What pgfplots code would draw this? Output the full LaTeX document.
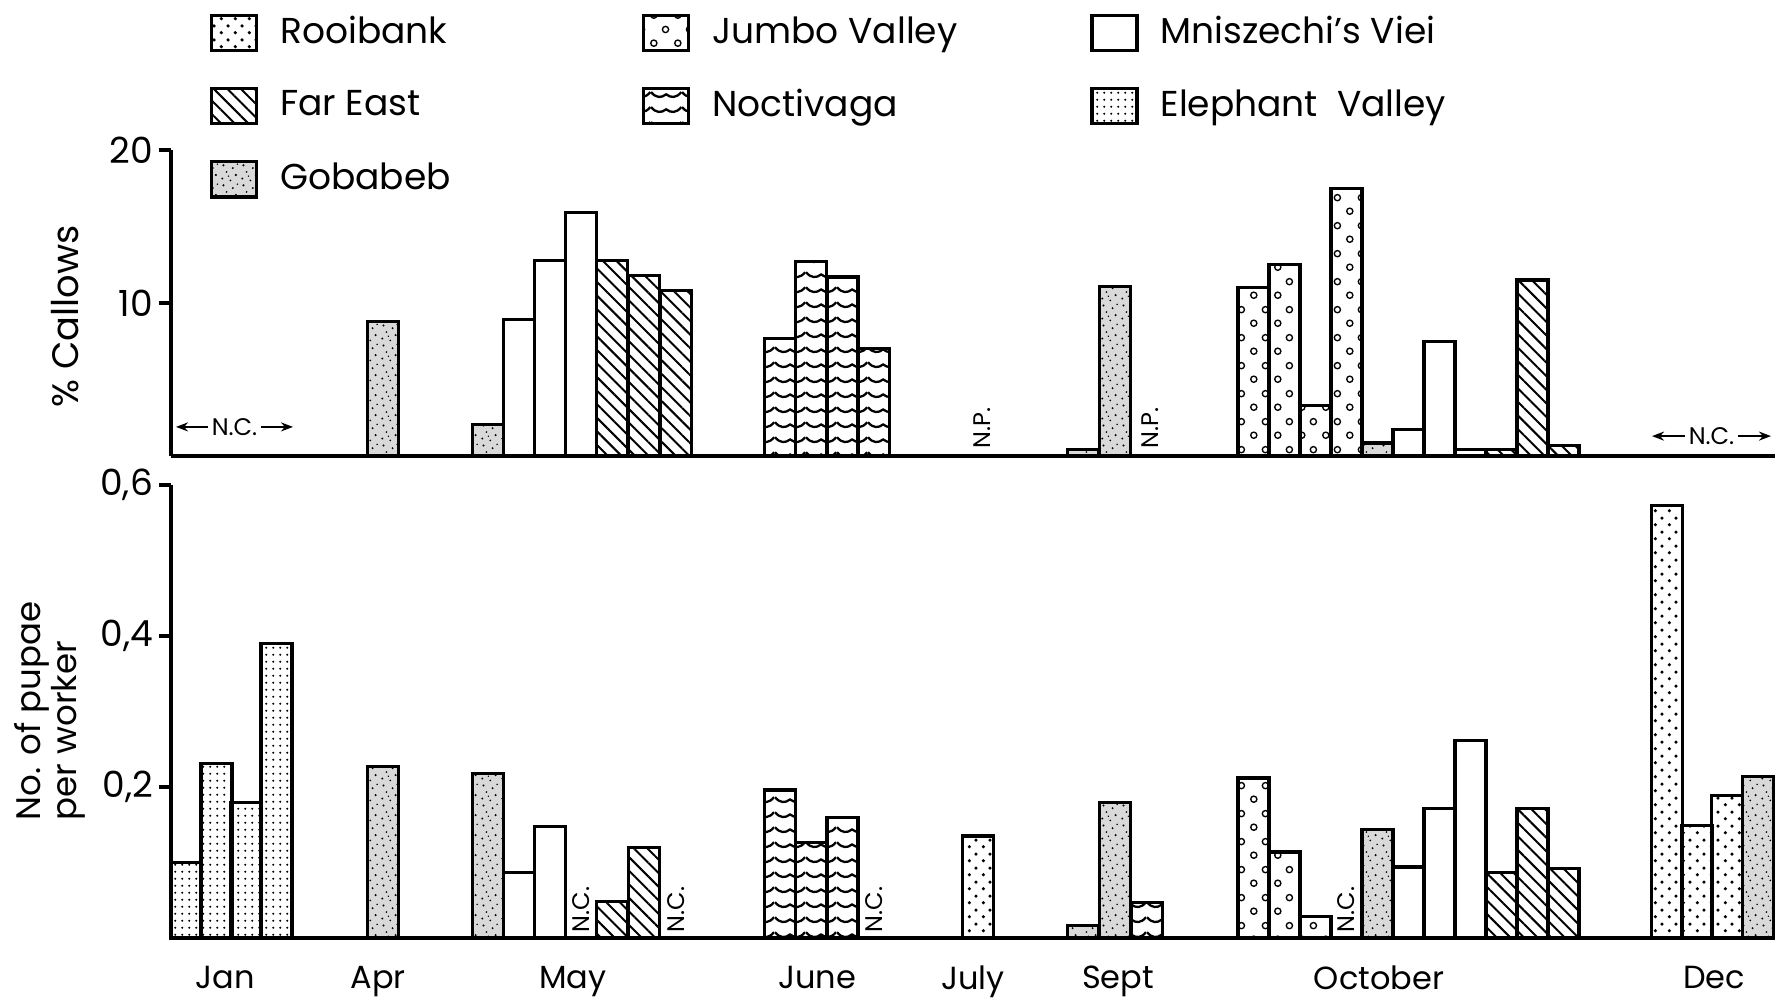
\documentclass[border=0pt]{standalone}
\usepackage{pgfplots}
\pgfplotsset{compat=1.18}
\usepackage{fontspec}
\setmainfont{Poppins}
\usetikzlibrary{patterns,patterns.meta,arrows.meta}

\pgfdeclarepatternformonly{rooidots}{\pgfqpoint{0pt}{0pt}}{\pgfqpoint{3.4pt}{3.4pt}}{\pgfqpoint{3.4pt}{3.4pt}}{%
 \pgfpathcircle{\pgfqpoint{0.85pt}{0.85pt}}{0.45pt}%
 \pgfpathcircle{\pgfqpoint{2.55pt}{2.55pt}}{0.45pt}%
 \pgfusepath{fill}}
\pgfdeclarepatternformonly{jumbocircles}{\pgfqpoint{0pt}{0pt}}{\pgfqpoint{6pt}{7pt}}{\pgfqpoint{6pt}{7pt}}{%
 \pgfsetlinewidth{0.35pt}%
 \pgfpathcircle{\pgfqpoint{1.5pt}{1.75pt}}{0.8pt}%
 \pgfpathcircle{\pgfqpoint{4.5pt}{5.25pt}}{0.8pt}%
 \pgfusepath{stroke}}
\pgfdeclarepatternformonly{elephdots}{\pgfqpoint{0pt}{0pt}}{\pgfqpoint{1.8pt}{1.8pt}}{\pgfqpoint{1.8pt}{1.8pt}}{%
 \pgfpathcircle{\pgfqpoint{0.9pt}{0.9pt}}{0.3pt}\pgfusepath{fill}}
\pgfdeclarepatternformonly{noctwaves}{\pgfqpoint{0pt}{0pt}}{\pgfqpoint{7.75pt}{3.75pt}}{\pgfqpoint{7.75pt}{3.75pt}}{%
 \pgfsetlinewidth{0.6pt}%
 \pgfpathmoveto{\pgfqpoint{0pt}{2.6pt}}%
 \pgfpathcurveto{\pgfqpoint{1.3pt}{1.0pt}}{\pgfqpoint{2.6pt}{1.0pt}}{\pgfqpoint{3.875pt}{2.0pt}}%
 \pgfpathcurveto{\pgfqpoint{5.15pt}{1.0pt}}{\pgfqpoint{6.45pt}{1.0pt}}{\pgfqpoint{7.75pt}{2.6pt}}%
 \pgfusepath{stroke}}
\pgfdeclarepatternformonly{gobstip}{\pgfqpoint{0pt}{0pt}}{\pgfqpoint{5pt}{5pt}}{\pgfqpoint{5pt}{5pt}}{%
 \pgfpathcircle{\pgfqpoint{0.6pt}{0.9pt}}{0.28pt}%
 \pgfpathcircle{\pgfqpoint{2.7pt}{0.4pt}}{0.25pt}%
 \pgfpathcircle{\pgfqpoint{4.1pt}{1.8pt}}{0.3pt}%
 \pgfpathcircle{\pgfqpoint{1.7pt}{2.6pt}}{0.25pt}%
 \pgfpathcircle{\pgfqpoint{3.3pt}{3.6pt}}{0.28pt}%
 \pgfpathcircle{\pgfqpoint{0.9pt}{4.3pt}}{0.3pt}%
 \pgfpathcircle{\pgfqpoint{4.5pt}{4.6pt}}{0.22pt}%
 \pgfpathcircle{\pgfqpoint{2.2pt}{1.5pt}}{0.2pt}%
 \pgfusepath{fill}}

\pgfplotsset{
 barbase/.style={ybar, bar width=31, bar shift=0pt, draw=black, line width=0.8pt,
   legend image code/.code={\draw[##1,line width=0.8pt] (0pt,-4.4pt) rectangle (11.25pt,4.4pt);}},
 rooi/.style={barbase, pattern=rooidots},
 jumbo/.style={barbase, pattern=jumbocircles},
 mnisz/.style={barbase, fill=white},
 fareast/.style={barbase, pattern={Lines[angle=-45,distance=2.4pt,line width=0.5pt]}},
 noct/.style={barbase, pattern=noctwaves},
 eleph/.style={barbase, pattern=elephdots},
 gob/.style={barbase, fill=black!15, postaction={pattern=gobstip}},
 panel/.style={scale only axis, width=401pt, anchor=south west,
   xmin=171, xmax=1775, enlargelimits=false, clip=false,
   axis x line*=bottom, axis y line*=left, axis line style={line width=1pt},
   tick align=outside, major tick length=3pt,
   ytick style={line width=0.9pt, black},
   yticklabel style={font=\fontsize{9}{9}\selectfont, xshift=2pt}},
}
\newcommand{\smalltxt}{\fontsize{6}{6}\selectfont}

\begin{document}
\begin{tikzpicture}
\path[use as bounding box] (0,0) rectangle (445pt,-250.5pt);

% ---------------- top panel: % callows
\begin{axis}[panel, at={(42.75pt,-114pt)}, height=76.5pt,
 ymin=0, ymax=20, xtick=\empty, ytick={10,20}, yticklabels={10,20},
 ylabel={\% Callows},
 ylabel style={at={(rel axis cs:-0.066,0.457)}, anchor=center, font=\fontsize{9.2}{11}\selectfont},
 legend columns=3,
 legend cell align=left,
 legend style={at={(0.0243,1.445)}, anchor=north west, draw=none, fill=none,
   inner sep=0pt, outer sep=0pt, row sep=8.7pt,
   font=\fontsize{9}{11}\selectfont, nodes={inner sep=0pt},
   /tikz/every odd column/.style={column sep=5.5pt}},
]
\addlegendimage{rooi}
\addlegendentry{\makebox[90.5pt][l]{Rooibank}}
\addlegendimage{jumbo}
\addlegendentry{\makebox[94.5pt][l]{Jumbo Valley}}
\addplot[mnisz] coordinates {(519,8.9) (550,12.8) (581,15.9) (1408.5,1.75) (1439.5,7.5) (1470.5,0.42)};
\addlegendentry{Mniszechi’s Viei}
\addplot[fareast] coordinates {(612,12.8) (644,11.8) (676,10.8) (1501.5,0.42) (1532.5,11.5) (1563.5,0.66)};
\addlegendentry{Far East}
\addplot[noct] coordinates {(780,7.7) (811,12.7) (842.5,11.7) (874,7.0)};
\addlegendentry{Noctivaga}
\addlegendimage{eleph}
\addlegendentry{Elephant\ \ Valley}
\addplot[gob] coordinates {(383,8.8) (488,2.05) (1083,0.45) (1115,11.1) (1377.5,0.85)};
\addlegendentry{Gobabeb}
\addplot[jumbo, forget plot] coordinates {(1253.5,11.0) (1284.5,12.5) (1315.5,3.3) (1346.5,17.5)};

\draw[{Stealth[length=3pt]}-{Stealth[length=3pt]}, line width=0.5pt] (axis cs:176,1.9) -- (axis cs:293,1.9)
  node[midway, fill=white, inner sep=1pt, font=\smalltxt] {N.C.};
\draw[{Stealth[length=3pt]}-{Stealth[length=3pt]}, line width=0.5pt] (axis cs:1652,1.3) -- (axis cs:1771,1.3)
  node[midway, fill=white, inner sep=1pt, font=\smalltxt] {N.C.};
\node[rotate=90, anchor=west, font=\smalltxt, inner sep=0.5pt] at (axis cs:982,0.3) {N.P.};
\node[rotate=90, anchor=west, font=\smalltxt, inner sep=0.5pt] at (axis cs:1150,0.3) {N.P.};
\end{axis}

% ---------------- bottom panel: pupae per worker
\begin{axis}[panel, at={(42.75pt,-234.5pt)}, height=113.25pt,
 ymin=0, ymax=0.6, ytick={0.2,0.4,0.6}, yticklabels={{0,2},{0,4},{0,6}},
 xtick={225,378,573,817,973,1118,1379,1714},
 xticklabels={Jan,Apr,May,June,July,Sept,October,Dec},
 xtick style={draw=none},
 xticklabel style={font=\fontsize{8}{8}\selectfont, yshift=-0.5pt},
 ylabel={No. of pupae\\per worker},
 ylabel style={at={(rel axis cs:-0.0754,0.258)}, anchor=west, align=left, inner sep=0pt,
   font=\fontsize{8.5}{9}\selectfont},
]
\addplot[eleph] coordinates {(186,0.10) (216.5,0.231) (246,0.18) (276.5,0.39)};
\addplot[gob] coordinates {(383,0.227) (488,0.218) (1083,0.017) (1115,0.179) (1377.5,0.144) (1758,0.214)};
\addplot[mnisz] coordinates {(519,0.087) (550,0.148) (1408.5,0.094) (1439.5,0.171) (1470.5,0.262)};
\addplot[fareast] coordinates {(612,0.048) (644,0.12) (1501.5,0.087) (1532.5,0.171) (1563.5,0.092)};
\addplot[noct] coordinates {(780,0.196) (811,0.126) (842.5,0.16) (1147,0.047)};
\addplot[rooi] coordinates {(978,0.135) (1667,0.573) (1697,0.149) (1727,0.189)};
\addplot[jumbo] coordinates {(1253.5,0.212) (1284.5,0.114) (1315.5,0.028)};

\node[rotate=90, anchor=west, font=\smalltxt, inner sep=0.5pt] at (axis cs:581,0.004) {N.C.};
\node[rotate=90, anchor=west, font=\smalltxt, inner sep=0.5pt] at (axis cs:676,0.004) {N.C.};
\node[rotate=90, anchor=west, font=\smalltxt, inner sep=0.5pt] at (axis cs:874,0.004) {N.C.};
\node[rotate=90, anchor=west, font=\smalltxt, inner sep=0.5pt] at (axis cs:1346.5,0.004) {N.C.};
\end{axis}
\end{tikzpicture}
\end{document}
